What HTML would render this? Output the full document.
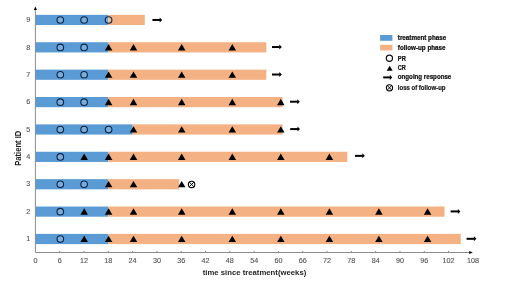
<!DOCTYPE html>
<html><head><meta charset="utf-8"><style>
html,body{margin:0;padding:0;background:#fff;}
body{width:520px;height:299px;overflow:hidden;}
svg{display:block;will-change:transform;filter:blur(0.3px);}
text{font-family:"Liberation Sans",sans-serif;}
.tl{font-size:7.2px;fill:#555;stroke:#555;stroke-width:0.12px;}
.at{font-size:8.1px;font-weight:bold;fill:#1e1e1e;}
.at2{font-size:8.6px;font-weight:bold;fill:#1e1e1e;}
.lg{font-size:6.5px;font-weight:bold;fill:#111;stroke:#111;stroke-width:0.24px;}
</style></head><body>
<svg width="520" height="299" viewBox="0 0 520 299">
<rect x="35.40" y="14.86" width="72.92" height="10.2" fill="#5b9bd5"/>
<rect x="108.32" y="14.86" width="36.46" height="10.2" fill="#f4b183"/>
<rect x="35.40" y="42.24" width="72.92" height="10.2" fill="#5b9bd5"/>
<rect x="108.32" y="42.24" width="157.99" height="10.2" fill="#f4b183"/>
<rect x="35.40" y="69.62" width="72.92" height="10.2" fill="#5b9bd5"/>
<rect x="108.32" y="69.62" width="157.99" height="10.2" fill="#f4b183"/>
<rect x="35.40" y="97.00" width="72.92" height="10.2" fill="#5b9bd5"/>
<rect x="108.32" y="97.00" width="174.19" height="10.2" fill="#f4b183"/>
<rect x="35.40" y="124.38" width="97.22" height="10.2" fill="#5b9bd5"/>
<rect x="132.62" y="124.38" width="149.88" height="10.2" fill="#f4b183"/>
<rect x="35.40" y="151.76" width="72.92" height="10.2" fill="#5b9bd5"/>
<rect x="108.32" y="151.76" width="239.00" height="10.2" fill="#f4b183"/>
<rect x="35.40" y="179.14" width="72.92" height="10.2" fill="#5b9bd5"/>
<rect x="108.32" y="179.14" width="70.89" height="10.2" fill="#f4b183"/>
<rect x="35.40" y="206.52" width="72.92" height="10.2" fill="#5b9bd5"/>
<rect x="108.32" y="206.52" width="336.22" height="10.2" fill="#f4b183"/>
<rect x="35.40" y="233.90" width="72.92" height="10.2" fill="#5b9bd5"/>
<rect x="108.32" y="233.90" width="352.43" height="10.2" fill="#f4b183"/>
<path d="M35.4 252.5H470" stroke="#8c8c8c" stroke-width="1"/>
<path d="M469.2 250.9L472.8 252.5L469.2 254.1Z" fill="#000"/>
<path d="M35.4 252.5V10" stroke="#8c8c8c" stroke-width="1"/>
<path d="M33.8 10.0L35.4 6.4L37.0 10.0Z" fill="#000"/>
<path d="M59.71 250.9V252.5" stroke="#808080" stroke-width="0.9"/>
<path d="M84.01 250.9V252.5" stroke="#808080" stroke-width="0.9"/>
<path d="M108.32 250.9V252.5" stroke="#808080" stroke-width="0.9"/>
<path d="M132.62 250.9V252.5" stroke="#808080" stroke-width="0.9"/>
<path d="M156.93 250.9V252.5" stroke="#808080" stroke-width="0.9"/>
<path d="M181.23 250.9V252.5" stroke="#808080" stroke-width="0.9"/>
<path d="M205.54 250.9V252.5" stroke="#808080" stroke-width="0.9"/>
<path d="M229.84 250.9V252.5" stroke="#808080" stroke-width="0.9"/>
<path d="M254.15 250.9V252.5" stroke="#808080" stroke-width="0.9"/>
<path d="M278.45 250.9V252.5" stroke="#808080" stroke-width="0.9"/>
<path d="M302.76 250.9V252.5" stroke="#808080" stroke-width="0.9"/>
<path d="M327.06 250.9V252.5" stroke="#808080" stroke-width="0.9"/>
<path d="M351.37 250.9V252.5" stroke="#808080" stroke-width="0.9"/>
<path d="M375.68 250.9V252.5" stroke="#808080" stroke-width="0.9"/>
<path d="M399.98 250.9V252.5" stroke="#808080" stroke-width="0.9"/>
<path d="M424.29 250.9V252.5" stroke="#808080" stroke-width="0.9"/>
<path d="M448.59 250.9V252.5" stroke="#808080" stroke-width="0.9"/>
<circle cx="60.30" cy="20.01" r="3.3" fill="rgba(205,215,235,0.28)" stroke="#0b2545" stroke-width="1.1"/>
<circle cx="84.10" cy="20.01" r="3.3" fill="rgba(205,215,235,0.28)" stroke="#0b2545" stroke-width="1.1"/>
<circle cx="108.60" cy="20.01" r="3.3" fill="rgba(205,215,235,0.28)" stroke="#0b2545" stroke-width="1.1"/>
<path d="M152.40 19.96H160.20" stroke="#000" stroke-width="2.0"/><path d="M159.70 17.46L162.20 19.96L159.70 22.46Z" fill="#000"/>
<circle cx="60.30" cy="47.39" r="3.3" fill="rgba(205,215,235,0.28)" stroke="#0b2545" stroke-width="1.1"/>
<circle cx="84.10" cy="47.39" r="3.3" fill="rgba(205,215,235,0.28)" stroke="#0b2545" stroke-width="1.1"/>
<path d="M104.85 50.39L108.60 44.09L112.35 50.39Z" fill="#000"/>
<path d="M129.75 50.39L133.50 44.09L137.25 50.39Z" fill="#000"/>
<path d="M177.95 50.39L181.70 44.09L185.45 50.39Z" fill="#000"/>
<path d="M228.55 50.39L232.30 44.09L236.05 50.39Z" fill="#000"/>
<path d="M272.00 47.04H279.80" stroke="#000" stroke-width="2.0"/><path d="M279.30 44.54L281.80 47.04L279.30 49.54Z" fill="#000"/>
<circle cx="60.30" cy="74.77" r="3.3" fill="rgba(205,215,235,0.28)" stroke="#0b2545" stroke-width="1.1"/>
<circle cx="84.10" cy="74.77" r="3.3" fill="rgba(205,215,235,0.28)" stroke="#0b2545" stroke-width="1.1"/>
<path d="M104.85 77.77L108.60 71.47L112.35 77.77Z" fill="#000"/>
<path d="M129.75 77.77L133.50 71.47L137.25 77.77Z" fill="#000"/>
<path d="M177.95 77.77L181.70 71.47L185.45 77.77Z" fill="#000"/>
<path d="M228.55 77.77L232.30 71.47L236.05 77.77Z" fill="#000"/>
<path d="M272.00 74.52H279.80" stroke="#000" stroke-width="2.0"/><path d="M279.30 72.02L281.80 74.52L279.30 77.02Z" fill="#000"/>
<circle cx="60.30" cy="102.15" r="3.3" fill="rgba(205,215,235,0.28)" stroke="#0b2545" stroke-width="1.1"/>
<circle cx="84.10" cy="102.15" r="3.3" fill="rgba(205,215,235,0.28)" stroke="#0b2545" stroke-width="1.1"/>
<path d="M104.85 105.15L108.60 98.85L112.35 105.15Z" fill="#000"/>
<path d="M129.75 105.15L133.50 98.85L137.25 105.15Z" fill="#000"/>
<path d="M177.95 105.15L181.70 98.85L185.45 105.15Z" fill="#000"/>
<path d="M228.55 105.15L232.30 98.85L236.05 105.15Z" fill="#000"/>
<path d="M277.05 105.15L280.80 98.85L284.55 105.15Z" fill="#000"/>
<path d="M290.00 101.70H297.80" stroke="#000" stroke-width="2.0"/><path d="M297.30 99.20L299.80 101.70L297.30 104.20Z" fill="#000"/>
<circle cx="60.30" cy="129.53" r="3.3" fill="rgba(205,215,235,0.28)" stroke="#0b2545" stroke-width="1.1"/>
<circle cx="84.10" cy="129.53" r="3.3" fill="rgba(205,215,235,0.28)" stroke="#0b2545" stroke-width="1.1"/>
<circle cx="108.60" cy="129.53" r="3.3" fill="rgba(205,215,235,0.28)" stroke="#0b2545" stroke-width="1.1"/>
<path d="M129.75 132.53L133.50 126.23L137.25 132.53Z" fill="#000"/>
<path d="M177.95 132.53L181.70 126.23L185.45 132.53Z" fill="#000"/>
<path d="M228.55 132.53L232.30 126.23L236.05 132.53Z" fill="#000"/>
<path d="M277.05 132.53L280.80 126.23L284.55 132.53Z" fill="#000"/>
<path d="M290.20 129.08H298.00" stroke="#000" stroke-width="2.0"/><path d="M297.50 126.58L300.00 129.08L297.50 131.58Z" fill="#000"/>
<circle cx="60.30" cy="156.91" r="3.3" fill="rgba(205,215,235,0.28)" stroke="#0b2545" stroke-width="1.1"/>
<path d="M80.45 159.91L84.20 153.61L87.95 159.91Z" fill="#000"/>
<path d="M104.85 159.91L108.60 153.61L112.35 159.91Z" fill="#000"/>
<path d="M129.75 159.91L133.50 153.61L137.25 159.91Z" fill="#000"/>
<path d="M177.95 159.91L181.70 153.61L185.45 159.91Z" fill="#000"/>
<path d="M228.55 159.91L232.30 153.61L236.05 159.91Z" fill="#000"/>
<path d="M277.05 159.91L280.80 153.61L284.55 159.91Z" fill="#000"/>
<path d="M325.65 159.91L329.40 153.61L333.15 159.91Z" fill="#000"/>
<path d="M355.00 155.86H362.80" stroke="#000" stroke-width="2.0"/><path d="M362.30 153.36L364.80 155.86L362.30 158.36Z" fill="#000"/>
<circle cx="60.30" cy="184.29" r="3.3" fill="rgba(205,215,235,0.28)" stroke="#0b2545" stroke-width="1.1"/>
<circle cx="84.10" cy="184.29" r="3.3" fill="rgba(205,215,235,0.28)" stroke="#0b2545" stroke-width="1.1"/>
<path d="M104.85 187.29L108.60 180.99L112.35 187.29Z" fill="#000"/>
<path d="M129.75 187.29L133.50 180.99L137.25 187.29Z" fill="#000"/>
<path d="M177.95 187.29L181.70 180.99L185.45 187.29Z" fill="#000"/>
<circle cx="191.60" cy="184.44" r="3.2" fill="#fff" stroke="#000" stroke-width="1.1"/><path d="M189.34 182.18L193.86 186.70M193.86 182.18L189.34 186.70" stroke="#000" stroke-width="1"/>
<circle cx="60.30" cy="211.67" r="3.3" fill="rgba(205,215,235,0.28)" stroke="#0b2545" stroke-width="1.1"/>
<path d="M80.45 214.67L84.20 208.37L87.95 214.67Z" fill="#000"/>
<path d="M104.85 214.67L108.60 208.37L112.35 214.67Z" fill="#000"/>
<path d="M129.75 214.67L133.50 208.37L137.25 214.67Z" fill="#000"/>
<path d="M177.95 214.67L181.70 208.37L185.45 214.67Z" fill="#000"/>
<path d="M228.55 214.67L232.30 208.37L236.05 214.67Z" fill="#000"/>
<path d="M277.05 214.67L280.80 208.37L284.55 214.67Z" fill="#000"/>
<path d="M325.65 214.67L329.40 208.37L333.15 214.67Z" fill="#000"/>
<path d="M375.15 214.67L378.90 208.37L382.65 214.67Z" fill="#000"/>
<path d="M423.85 214.67L427.60 208.37L431.35 214.67Z" fill="#000"/>
<path d="M450.60 211.42H458.40" stroke="#000" stroke-width="2.0"/><path d="M457.90 208.92L460.40 211.42L457.90 213.92Z" fill="#000"/>
<circle cx="60.30" cy="239.05" r="3.3" fill="rgba(205,215,235,0.28)" stroke="#0b2545" stroke-width="1.1"/>
<path d="M80.45 242.05L84.20 235.75L87.95 242.05Z" fill="#000"/>
<path d="M104.85 242.05L108.60 235.75L112.35 242.05Z" fill="#000"/>
<path d="M129.75 242.05L133.50 235.75L137.25 242.05Z" fill="#000"/>
<path d="M177.95 242.05L181.70 235.75L185.45 242.05Z" fill="#000"/>
<path d="M228.55 242.05L232.30 235.75L236.05 242.05Z" fill="#000"/>
<path d="M277.05 242.05L280.80 235.75L284.55 242.05Z" fill="#000"/>
<path d="M325.65 242.05L329.40 235.75L333.15 242.05Z" fill="#000"/>
<path d="M375.15 242.05L378.90 235.75L382.65 242.05Z" fill="#000"/>
<path d="M423.85 242.05L427.60 235.75L431.35 242.05Z" fill="#000"/>
<path d="M466.60 238.80H474.40" stroke="#000" stroke-width="2.0"/><path d="M473.90 236.30L476.40 238.80L473.90 241.30Z" fill="#000"/>
<text x="35.40" y="263.4" text-anchor="middle" class="tl">0</text>
<text x="59.71" y="263.4" text-anchor="middle" class="tl">6</text>
<text x="84.01" y="263.4" text-anchor="middle" class="tl">12</text>
<text x="108.32" y="263.4" text-anchor="middle" class="tl">18</text>
<text x="132.62" y="263.4" text-anchor="middle" class="tl">24</text>
<text x="156.93" y="263.4" text-anchor="middle" class="tl">30</text>
<text x="181.23" y="263.4" text-anchor="middle" class="tl">36</text>
<text x="205.54" y="263.4" text-anchor="middle" class="tl">42</text>
<text x="229.84" y="263.4" text-anchor="middle" class="tl">48</text>
<text x="254.15" y="263.4" text-anchor="middle" class="tl">54</text>
<text x="278.45" y="263.4" text-anchor="middle" class="tl">60</text>
<text x="302.76" y="263.4" text-anchor="middle" class="tl">66</text>
<text x="327.06" y="263.4" text-anchor="middle" class="tl">72</text>
<text x="351.37" y="263.4" text-anchor="middle" class="tl">78</text>
<text x="375.68" y="263.4" text-anchor="middle" class="tl">84</text>
<text x="399.98" y="263.4" text-anchor="middle" class="tl">90</text>
<text x="424.29" y="263.4" text-anchor="middle" class="tl">96</text>
<text x="448.59" y="263.4" text-anchor="middle" class="tl">102</text>
<text x="472.90" y="263.4" text-anchor="middle" class="tl">108</text>
<text x="30.2" y="241.20" text-anchor="end" class="tl">1</text>
<text x="30.2" y="213.82" text-anchor="end" class="tl">2</text>
<text x="30.2" y="186.44" text-anchor="end" class="tl">3</text>
<text x="30.2" y="159.06" text-anchor="end" class="tl">4</text>
<text x="30.2" y="131.68" text-anchor="end" class="tl">5</text>
<text x="30.2" y="104.30" text-anchor="end" class="tl">6</text>
<text x="30.2" y="76.92" text-anchor="end" class="tl">7</text>
<text x="30.2" y="49.54" text-anchor="end" class="tl">8</text>
<text x="30.2" y="22.16" text-anchor="end" class="tl">9</text>
<text x="202.7" y="274.7" class="at" textLength="103.6" lengthAdjust="spacingAndGlyphs">time since treatment(weeks)</text>
<text transform="translate(21.4 165.7) rotate(-90)" class="at2" textLength="34.9" lengthAdjust="spacingAndGlyphs">Patient ID</text>
<rect x="380.1" y="35" width="12.3" height="5.8" fill="#5b9bd5"/>
<rect x="380.1" y="44.8" width="12.3" height="5.6" fill="#f4b183"/>
<text x="397.8" y="39.9" class="lg" textLength="48.4" lengthAdjust="spacingAndGlyphs">treatment phase</text>
<text x="397.8" y="49.5" class="lg" textLength="47.8" lengthAdjust="spacingAndGlyphs">follow-up phase</text>
<circle cx="389.40" cy="58.20" r="3.1" fill="#fff" stroke="#111" stroke-width="1.2"/>
<text x="397.8" y="60.5" class="lg" textLength="8.1" lengthAdjust="spacingAndGlyphs">PR</text>
<path d="M386.70 70.70L389.70 65.70L392.70 70.70Z" fill="#000"/>
<text x="397.8" y="70.1" class="lg" textLength="8.1" lengthAdjust="spacingAndGlyphs">CR</text>
<path d="M383.20 77.40H390.30" stroke="#000" stroke-width="2.0"/><path d="M389.80 74.70L392.20 77.40L389.80 80.10Z" fill="#000"/>
<text x="397.8" y="79.4" class="lg" textLength="53.5" lengthAdjust="spacingAndGlyphs">ongoing response</text>
<circle cx="389.50" cy="87.80" r="3.1" fill="#fff" stroke="#000" stroke-width="1.1"/><path d="M387.31 85.61L391.69 89.99M391.69 85.61L387.31 89.99" stroke="#000" stroke-width="1"/>
<text x="397.8" y="89.8" class="lg" textLength="47.7" lengthAdjust="spacingAndGlyphs" style="fill:#222;stroke:#222">loss of follow-up</text>
</svg>
</body></html>
